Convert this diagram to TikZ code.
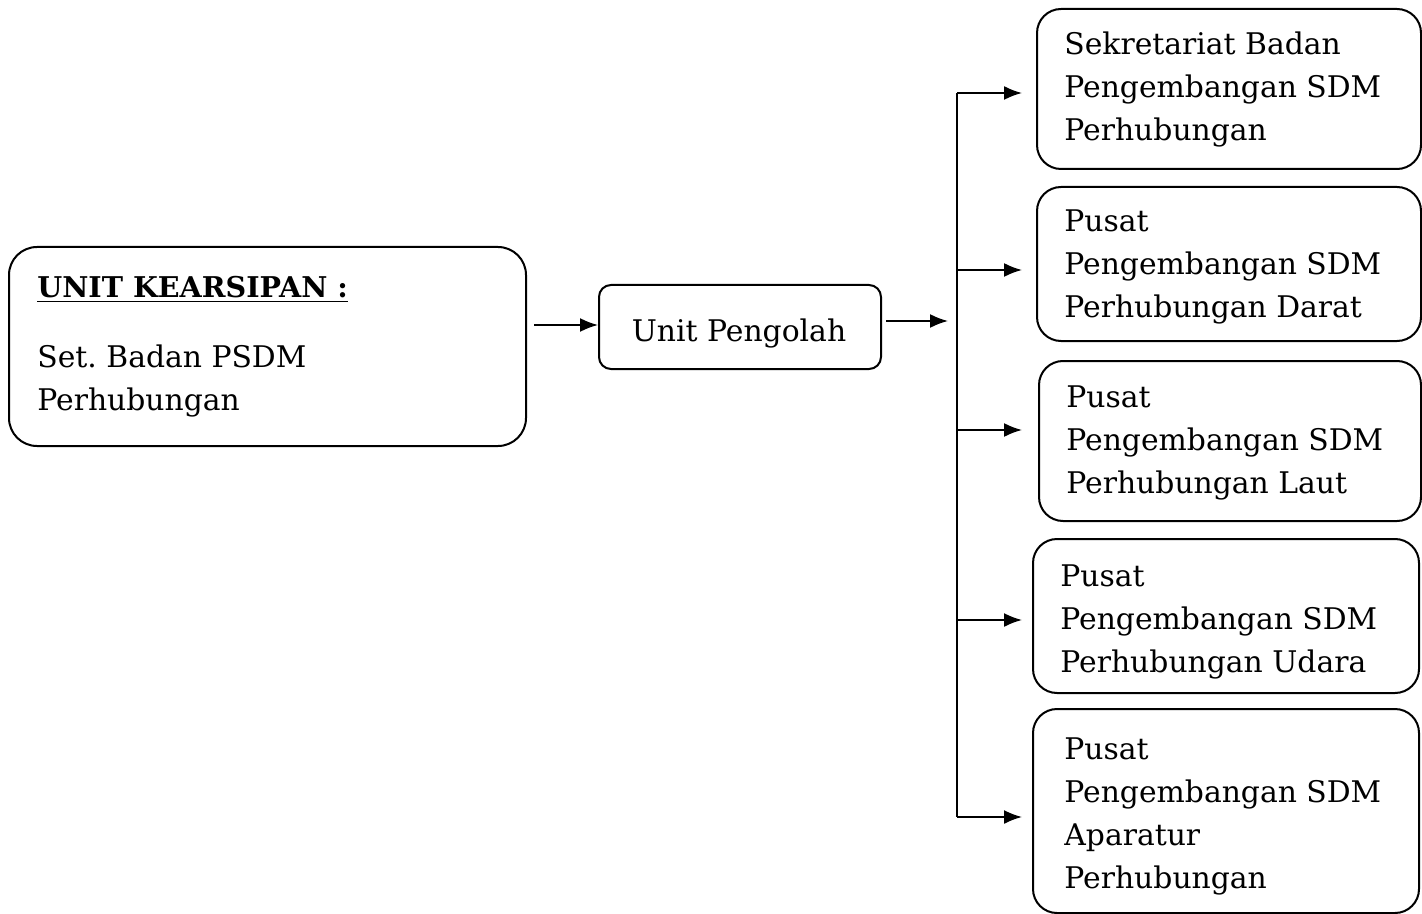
\documentclass[tikz,border=0pt]{standalone}
\usepackage{fontspec}
\setmainfont{DejaVu Serif}
\usetikzlibrary{arrows.meta}
\tikzset{
  box/.style={draw, line width=1pt, inner sep=0pt, anchor=north west},
  txt/.style={inner sep=0pt, anchor=base west, align=left, font=\fontsize{14.9}{21.5}\selectfont},
  arr/.style={line width=0.9pt, -{Latex[length=9pt,width=7pt]}},
  bus/.style={line width=0.9pt}
}
\begin{document}
\begin{tikzpicture}[x=0.5pt,y=-0.5pt]
\useasboundingbox (0,0) rectangle (1422,914);
% left box
\node[box, rounded corners=14pt, minimum width=258.5pt, minimum height=99.5pt] (ka) at (8,246) {};
\node[txt, font=\fontsize{14.3}{21.5}\selectfont] (kat) at (37,298) {\underline{\textbf{UNIT KEARSIPAN :}}};
\node[txt] (kab) at (37,410) {Set.\ Badan PSDM\\Perhubungan};
% unit pengolah
\node[box, rounded corners=6pt, minimum width=141pt, minimum height=42pt] (up) at (598,284) {};
\node[txt, anchor=base] (upt) at (739,342) {Unit Pengolah};
% right boxes
\node[box, rounded corners=12pt, minimum width=192pt, minimum height=80pt] (b1) at (1036,8) {};
\node[box, rounded corners=12pt, minimum width=192pt, minimum height=77pt] (b2) at (1036,186) {};
\node[box, rounded corners=12pt, minimum width=191pt, minimum height=80pt] (b3) at (1038,360) {};
\node[box, rounded corners=12pt, minimum width=193pt, minimum height=77pt] (b4) at (1032,538) {};
\node[box, rounded corners=12pt, minimum width=193pt, minimum height=102pt] (b5) at (1032,708) {};
\node[txt] (t1) at (1064,141) {Sekretariat Badan\\Pengembangan SDM\\Perhubungan};
\node[txt] (t2) at (1064,318) {Pusat\\Pengembangan SDM\\Perhubungan Darat};
\node[txt] (t3) at (1066,493) {Pusat\\Pengembangan SDM\\Perhubungan Laut};
\node[txt] (t4) at (1060,672) {Pusat\\Pengembangan SDM\\Perhubungan Udara};
\node[txt] (t5) at (1064,888) {Pusat\\Pengembangan SDM\\Aparatur\\Perhubungan};
% bus
\coordinate (c1) at (957,93);
\coordinate (c2) at (957,270);
\coordinate (c3) at (957,430);
\coordinate (c4) at (957,620);
\coordinate (c5) at (957,817);
\coordinate (cin) at (957,321);
% connectors
\draw[arr, shorten <=3.5pt] (ka.east |- 0,325) -- (up.west |- 0,325);
\draw[arr, shorten <=2pt, shorten >=4.5pt] (up.east |- cin) -- (cin);
\draw[bus] (c1) -- (c5);
\draw[arr, shorten >=7pt] (c1) -- (c1 -| b1.west);
\draw[arr, shorten >=7pt] (c2) -- (c2 -| b2.west);
\draw[arr, shorten >=8pt] (c3) -- (c3 -| b3.west);
\draw[arr, shorten >=5pt] (c4) -- (c4 -| b4.west);
\draw[arr, shorten >=5pt] (c5) -- (c5 -| b5.west);
\end{tikzpicture}
\end{document}
